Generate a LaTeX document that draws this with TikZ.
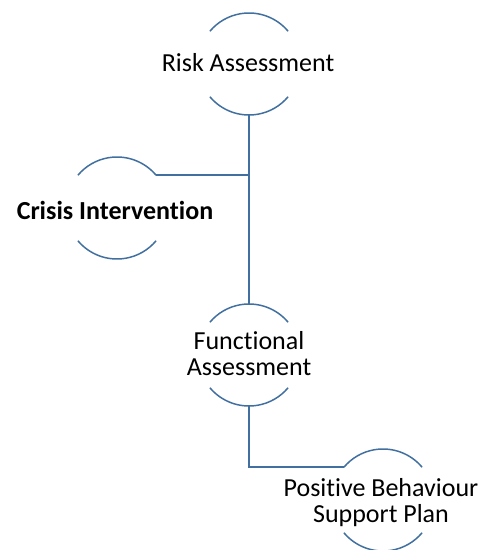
\documentclass[tikz,border=0pt]{standalone}
\usepackage{fontspec}
\setmainfont{Carlito}[Ligatures=NoCommon]
\definecolor{linkblue}{RGB}{65,112,160}
\begin{document}
\begin{tikzpicture}[x=1pt,y=1pt,
  ring/.style={circle,minimum size=102pt,inner sep=0pt,outer sep=0pt,draw=none},
  lbl/.style={align=center,inner sep=0pt,font=\fontsize{26}{26}\selectfont},
  arcline/.style={draw=linkblue,line width=1.5pt},
  link/.style={draw=linkblue,line width=1.5pt}]
\useasboundingbox (0,0) rectangle (493,550);
\node[ring] (c1) at (249,486) {};
\node[ring] (c2) at (117,342) {};
\node[ring] (c3) at (249,195) {};
\node[ring] (c4) at (383,50) {};
\foreach \c in {c1,c2,c3,c4}{
  \draw[arcline] (\c.40) arc[start angle=40,end angle=140,radius=51pt];
  \draw[arcline] (\c.220) arc[start angle=220,end angle=320,radius=51pt];
}
\node[lbl] (t1) at (248,487) {Risk Assessment};
\node[lbl,font=\fontsize{26}{26}\selectfont\bfseries] (t2) at (115,340) {Crisis Intervention};
\node[lbl] (t3) at (249,196) {Functional\\Assessment};
\node[lbl] (t4) at (381,47) {Positive Behaviour\\Support Plan};
\draw[link] (c1.south) -- (c3.north);
\draw[link] (c2.40) -- (c2.40 -| c1.south);
\draw[link] (c3.south) |- (c4.140);
\end{tikzpicture}
\end{document}
